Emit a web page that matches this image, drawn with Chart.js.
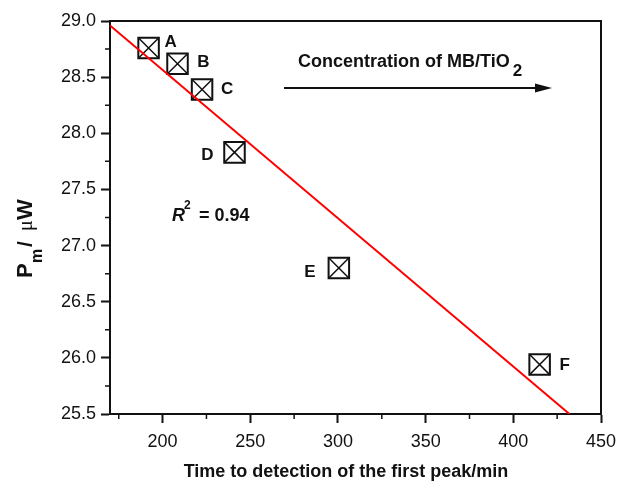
<!DOCTYPE html>
<html>
<head>
<meta charset="utf-8">
<script src="https://cdn.jsdelivr.net/npm/chart.js@4.4.0/dist/chart.umd.min.js"></script>
<style>
  html, body { margin: 0; padding: 0; background: #fff; }
  #wrap { width: 620px; height: 482px; }
</style>
</head>
<body>
<div id="wrap"><canvas id="myChart"></canvas></div>
<script>
// Data
const sampleNames = ['A', 'B', 'C', 'D', 'E', 'F']
const detectionTime = [192, 208.5, 222.5, 241, 300.5, 415]
const maxPower = [28.76, 28.62, 28.39, 27.83, 26.80, 25.94]
const fitTime = [170, 432]
const fitPower = [28.96, 25.5]
const xTicks = [200, 250, 300, 350, 400, 450]
const xMinorTicks = [175, 225, 275, 325, 375, 425]
const yTicks = [25.5, 26.0, 26.5, 27.0, 27.5, 28.0, 28.5, 29.0]
const yMinorTicks = [25.75, 26.25, 26.75, 27.25, 27.75, 28.25, 28.75]
const rSquared = '0.94'

const FONT = '"Liberation Sans", Arial, sans-serif'
const INK = '#111'
// pixel offsets of the A..F labels from their markers
const labelOffsets = [[22, -6], [26, -1], [25, 0], [-27, 3], [-29, 4], [25, 1]]

const points = detectionTime.map((t, i) => ({ x: t, y: maxPower[i] }))
const fitLine = fitTime.map((t, i) => ({ x: t, y: fitPower[i] }))

/**
 * Draws the frame, minor ticks, titles and the text annotations.
 */
const annotations = {
  id: 'annotations',
  afterDraw (chart) {
    const { ctx, chartArea, scales } = chart
    const { left, right, top, bottom } = chartArea
    ctx.save()
    ctx.strokeStyle = INK
    ctx.fillStyle = INK

    // top and right side of the box
    ctx.lineWidth = 2
    ctx.beginPath()
    ctx.moveTo(left, top)
    ctx.lineTo(right, top)
    ctx.lineTo(right, bottom)
    ctx.stroke()

    // minor ticks
    ctx.lineWidth = 1.5
    ctx.beginPath()
    xMinorTicks.forEach(v => {
      const px = scales.x.getPixelForValue(v)
      ctx.moveTo(px, bottom)
      ctx.lineTo(px, bottom + 5)
    })
    yMinorTicks.forEach(v => {
      const py = scales.y.getPixelForValue(v)
      ctx.moveTo(left - 5, py)
      ctx.lineTo(left, py)
    })
    ctx.stroke()

    // sample letters
    const meta = chart.getDatasetMeta(1)
    ctx.font = 'bold 17px ' + FONT
    ctx.textAlign = 'center'
    ctx.textBaseline = 'middle'
    meta.data.forEach((pt, i) => {
      ctx.fillText(sampleNames[i], pt.x + labelOffsets[i][0], pt.y + labelOffsets[i][1])
    })

    ctx.textAlign = 'left'
    ctx.textBaseline = 'alphabetic'

    // R^2
    ctx.font = 'italic bold 18px ' + FONT
    ctx.fillText('R', 172, 221)
    ctx.font = 'bold 12px ' + FONT
    ctx.fillText('2', 184, 209)
    ctx.font = 'bold 18px ' + FONT
    ctx.fillText('= ' + rSquared, 199, 221)

    // concentration arrow
    ctx.font = 'bold 18px ' + FONT
    const label = 'Concentration of MB/TiO'
    ctx.fillText(label, 298, 67)
    const w = ctx.measureText(label).width
    ctx.font = 'bold 17px ' + FONT
    ctx.fillText('2', 298 + w + 3, 76)
    ctx.lineWidth = 2
    ctx.beginPath()
    ctx.moveTo(284, 88)
    ctx.lineTo(540, 88)
    ctx.stroke()
    ctx.beginPath()
    ctx.moveTo(552, 88)
    ctx.lineTo(535, 83.5)
    ctx.lineTo(535, 92.5)
    ctx.closePath()
    ctx.fill()

    // x title
    ctx.font = 'bold 18px ' + FONT
    ctx.textAlign = 'center'
    ctx.fillText('Time to detection of the first peak/min', 346, 477)

    // y title, rotated
    ctx.textAlign = 'left'
    ctx.translate(32, 278)
    ctx.rotate(-Math.PI / 2)
    ctx.font = 'bold 22px ' + FONT
    ctx.fillText('P', 0, 0)
    ctx.font = 'bold 16px ' + FONT
    ctx.fillText('m', 15, 9.5)
    ctx.font = 'bold 21px ' + FONT
    ctx.fillText('/', 31, 0)
    ctx.font = '20px "Liberation Serif", serif'
    ctx.fillText('\u03bc', 47, 0)
    ctx.font = 'bold 22px ' + FONT
    ctx.fillText('W', 58, 0)
    ctx.restore()
  }
}

const ctx = document.getElementById('myChart').getContext('2d')
const axisStyle = {
  grid: {
    display: true,
    drawOnChartArea: false,
    drawTicks: true,
    tickLength: 9,
    tickWidth: 2,
    tickColor: INK
  },
  border: { display: true, width: 2, color: INK }
}

new Chart(ctx, {
  type: 'scatter',
  data: {
    datasets: [{
      data: fitLine,
      showLine: true,
      borderColor: '#f00',
      borderWidth: 2,
      pointRadius: 0,
      fill: false
    },
    {
      data: points,
      pointStyle: 'rect',
      pointRadius: 14.5,
      pointBorderWidth: 2,
      pointBorderColor: INK,
      pointBackgroundColor: 'transparent',
      showLine: false
    },
    {
      data: points,
      pointStyle: 'crossRot',
      pointRadius: 14.5,
      pointBorderWidth: 1.5,
      pointBorderColor: INK,
      showLine: false
    }]
  },
  options: {
    responsive: true,
    maintainAspectRatio: false,
    animation: false,
    layout: { padding: { left: 0, right: 19, top: 21, bottom: 0 } },
    scales: {
      x: {
        ...axisStyle,
        type: 'linear',
        min: 170,
        max: 450,
        afterBuildTicks: scale => { scale.ticks = xTicks.map(v => ({ value: v })) },
        afterFit: scale => {
          scale.height = 68
          scale.paddingLeft = 0
          scale.paddingRight = 0
        },
        ticks: {
          color: INK,
          padding: 8,
          font: { family: FONT, size: 18 },
          callback: v => String(v)
        }
      },
      y: {
        ...axisStyle,
        type: 'linear',
        min: 25.5,
        max: 29.0,
        afterBuildTicks: scale => { scale.ticks = yTicks.map(v => ({ value: v })) },
        afterFit: scale => { scale.width = 110 },
        ticks: {
          color: INK,
          padding: 5,
          font: { family: FONT, size: 18 },
          callback: v => v.toFixed(1)
        }
      }
    },
    plugins: {
      legend: { display: false },
      tooltip: { enabled: false }
    }
  },
  plugins: [annotations]
})
</script>
</body>
</html>
